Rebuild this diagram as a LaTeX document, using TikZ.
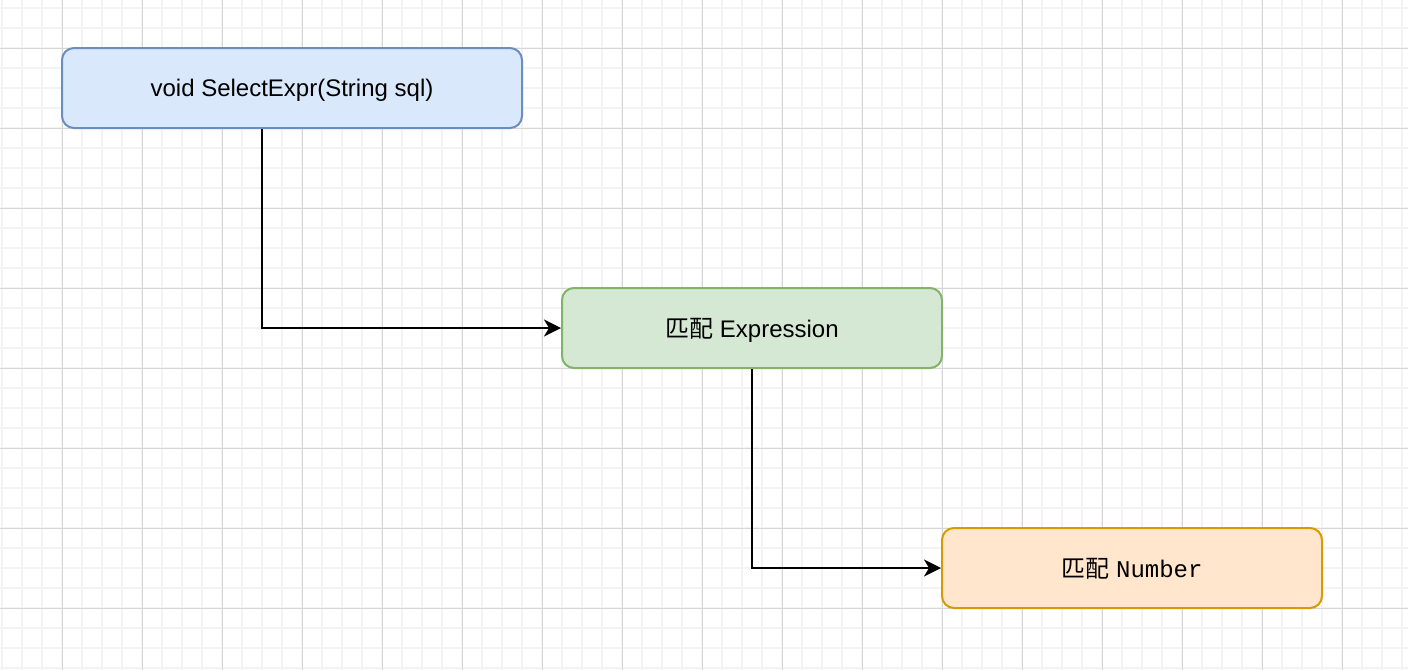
\documentclass[tikz,border=0pt]{standalone}
\usepackage{fontspec}
\setmainfont{Liberation Sans}
\setmonofont{Liberation Mono}
\newfontfamily\cjk{Noto Sans CJK SC}
\usetikzlibrary{arrows.meta}
\definecolor{minorgrid}{HTML}{F3F3F3}
\definecolor{majorgrid}{HTML}{D6D6D6}
\definecolor{bluefill}{HTML}{DAE8FC}
\definecolor{bluedraw}{HTML}{6C8EBF}
\definecolor{greenfill}{HTML}{D5E8D4}
\definecolor{greendraw}{HTML}{82B366}
\definecolor{orangefill}{HTML}{FFE6CC}
\definecolor{orangedraw}{HTML}{D79B00}
\begin{document}
\begin{tikzpicture}[x=0.5pt,y=-0.5pt,
    box/.style = {rectangle,rounded corners=6pt,line width=1pt,minimum height=40pt,
                  inner sep=0pt,text depth=0pt,font=\fontsize{12}{14}\selectfont},
    link/.style = {line width=1pt,-{Stealth[length=8.5pt,width=8.5pt,inset=2.5pt]}}]

        % Canvas
        \useasboundingbox (0,0) rectangle (1408,670);
        \fill[white] (0,0) rectangle (1408,670);

        % Grid
        \foreach \x in {2,22,...,1402}
            \draw[minorgrid,line width=1pt] (\x,0) -- (\x,670);
        \foreach \y in {8,28,...,668}
            \draw[minorgrid,line width=1pt] (0,\y) -- (1408,\y);
        \foreach \x in {62,142,...,1342}
            \draw[majorgrid,line width=0.5pt] (\x,0) -- (\x,670);
        \foreach \y in {48,128,...,608}
            \draw[majorgrid,line width=0.5pt] (0,\y) -- (1408,\y);

        % Function box
        \node [box,fill=bluefill,draw=bluedraw,minimum width=230pt] (select) at (292,88)
            {void SelectExpr(String sql)};

        % Expression box
        \node [box,fill=greenfill,draw=greendraw,minimum width=190pt] (expr) at (752,328)
            {{\cjk 匹配} Expression};

        % Number box
        \node [box,fill=orangefill,draw=orangedraw,minimum width=190pt] (number) at (1132,568)
            {{\cjk 匹配} \texttt{Number}};

        % Connectors
        \draw[link] ([xshift=-15pt]select.south) |- (expr.west);
        \draw[link] (expr.south) |- (number.west);

    \end{tikzpicture}
\end{document}
